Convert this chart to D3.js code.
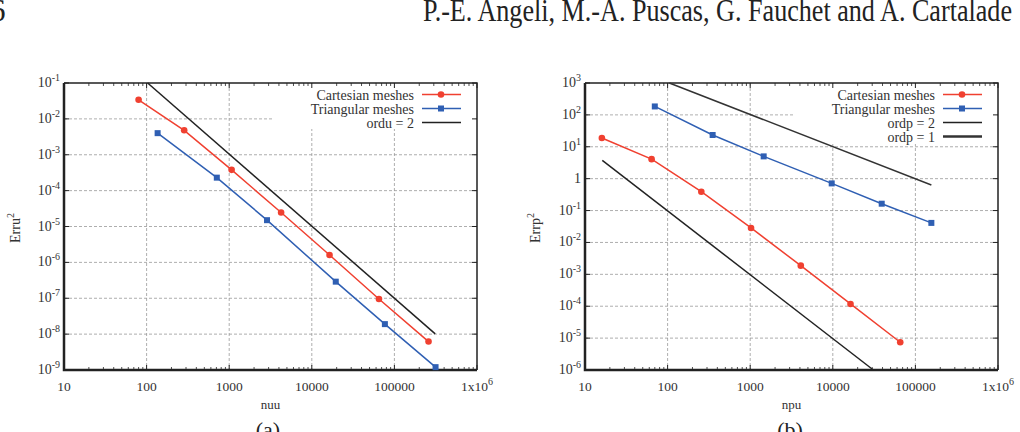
<!DOCTYPE html>
<html>
<head>
<meta charset="utf-8">
<script src="https://cdn.jsdelivr.net/npm/d3@7"></script>
<style>
  body { margin: 0; background: #fff; }
  svg { display: block; font-family: "Liberation Serif", "Times New Roman", serif; }
</style>
</head>
<body>
<svg id="chart" width="1020" height="432"></svg>
<script>
// panel (a): velocity error
var cartUx = [80, 285, 1070, 4250, 16400, 65000, 259000];
var cartUy = [3.4e-2, 4.8e-3, 3.8e-4, 2.45e-5, 1.6e-6, 9.5e-8, 6.2e-9];
var triUx = [136, 708, 2870, 19500, 76700, 315000];
var triUy = [4.0e-3, 2.3e-4, 1.5e-5, 2.9e-7, 1.9e-8, 1.2e-9];
var orduX = [103, 312000];
var orduY = [1e-1, 1.02e-8];

// panel (b): pressure error
var cartPx = [16, 64, 256, 1024, 4096, 16384, 65536];
var cartPy = [18.9, 4.1, 0.39, 0.0285, 1.87e-3, 1.18e-4, 7.4e-6];
var triPx = [70, 351, 1456, 9700, 39100, 156000];
var triPy = [184, 23.4, 5.0, 0.71, 0.164, 0.041];
var ordp2X = [16.2, 31000];
var ordp2Y = [3.75, 1e-6];
var ordp1X = [105, 156000];
var ordp1Y = [1000, 0.635];

var xTicks = [10, 100, 1000, 10000, 100000, 1e6];
var yTicksU = [-9, -8, -7, -6, -5, -4, -3, -2, -1];
var yTicksP = [-6, -5, -4, -3, -2, -1, 0, 1, 2, 3];

var RED = "#f04030", BLUE = "#2f5fb3", BLACK = "#222";

var svg = d3.select("#chart");
var zip = (xs, ys) => xs.map((x, i) => ({x: x, y: ys[i]}));

// running header, cut at the top like the scanned page
svg.append("text")
  .attr("x", 423).attr("y", 21)
  .attr("textLength", 589).attr("lengthAdjust", "spacingAndGlyphs")
  .style("font-size", "31px").attr("fill", "#222")
  .text("P.-E. Angeli, M.-A. Puscas, G. Fauchet and A. Cartalade");
svg.append("text").attr("x", -10).attr("y", 21)
  .style("font-size", "31px").attr("fill", "#222").text("6");

function supLabel(sel, base, exp, sz) {
  sel.text(null);
  sel.append("tspan").text(base);
  if (exp !== null) {
    sel.append("tspan").attr("dy", -6).style("font-size", (sz || 10) + "px").text(exp);
  }
}

function drawPanel(cfg) {
  var g = svg.append("g");
  var x = d3.scaleLog().domain([10, 1e6]).range([cfg.x0, cfg.x1]);
  var y = d3.scaleLog().domain(cfg.ydom).range([370, 83]);
  var top = 83, bot = 370;

  // grid
  xTicks.slice(1, -1).forEach(t => {
    g.append("line").attr("x1", x(t)).attr("x2", x(t)).attr("y1", top).attr("y2", bot)
      .attr("stroke", "#999").attr("stroke-width", 0.8).attr("stroke-dasharray", "3,2");
  });
  cfg.yt.slice(1, -1).forEach(e => {
    var yy = y(Math.pow(10, e));
    g.append("line").attr("x1", cfg.x0).attr("x2", cfg.x1).attr("y1", yy).attr("y2", yy)
      .attr("stroke", "#999").attr("stroke-width", 0.8).attr("stroke-dasharray", "3,2");
  });

  // legend background hides grid
  g.append("rect").attr("x", cfg.legBox[0]).attr("y", top + 1)
    .attr("width", cfg.x1 - cfg.legBox[0] - 1).attr("height", cfg.legBox[1] - top)
    .attr("fill", "#fff");

  // ticks
  var minor = [];
  d3.range(1, 6).forEach(d => d3.range(2, 10).forEach(k => minor.push(k * Math.pow(10, d))));
  minor.forEach(t => {
    [[bot, -3], [top, 3]].forEach(p => {
      g.append("line").attr("x1", x(t)).attr("x2", x(t)).attr("y1", p[0]).attr("y2", p[0] + p[1])
        .attr("stroke", BLACK).attr("stroke-width", 0.8);
    });
  });
  xTicks.forEach(t => {
    [[bot, -5], [top, 5]].forEach(p => {
      g.append("line").attr("x1", x(t)).attr("x2", x(t)).attr("y1", p[0]).attr("y2", p[0] + p[1])
        .attr("stroke", BLACK).attr("stroke-width", 1);
    });
  });
  cfg.yt.forEach(e => {
    var yy = y(Math.pow(10, e));
    [[cfg.x0, 5], [cfg.x1, -5]].forEach(p => {
      g.append("line").attr("x1", p[0]).attr("x2", p[0] + p[1]).attr("y1", yy).attr("y2", yy)
        .attr("stroke", BLACK).attr("stroke-width", 1);
    });
  });

  // border
  g.append("path")
    .attr("d", `M${cfg.x0},${top}H${cfg.x1}V${bot}`)
    .attr("fill", "none").attr("stroke", BLACK).attr("stroke-width", 1.5);
  g.append("path")
    .attr("d", `M${cfg.x0},${top}V${bot}H${cfg.x1}`)
    .attr("fill", "none").attr("stroke", BLACK).attr("stroke-width", 2.5);

  // tick labels
  xTicks.forEach(t => {
    var lab = g.append("text").attr("x", x(t)).attr("y", 391)
      .attr("text-anchor", "middle").style("font-size", "13.5px").attr("fill", "#333");
    if (t === 1e6) supLabel(lab, "1x10", "6");
    else lab.text(t);
  });
  cfg.yt.forEach(e => {
    var lab = g.append("text").attr("x", cfg.x0 - 4).attr("y", y(Math.pow(10, e)) + 4)
      .attr("text-anchor", "end").style("font-size", "14px").attr("fill", "#333");
    if (e === 0) lab.text("1");
    else supLabel(lab, "10", String(e));
  });

  // axis titles
  g.append("text").attr("x", (cfg.x0 + cfg.x1) / 2).attr("y", 409)
    .attr("text-anchor", "middle").style("font-size", "13px").attr("fill", "#333")
    .text(cfg.xlab);
  var yl = g.append("text")
    .attr("transform", `translate(${cfg.ylabX},228) rotate(-90)`)
    .attr("text-anchor", "middle").style("font-size", "14px").attr("fill", "#333");
  supLabel(yl, cfg.ylab, "2", 10);
  g.append("text").attr("x", cfg.capX).attr("y", 437)
    .attr("text-anchor", "middle").style("font-size", "22px").attr("fill", "#222")
    .text(cfg.cap);

  // series
  var line = d3.line().x(d => x(d.x)).y(d => y(d.y));
  cfg.series.forEach(s => {
    g.append("path").datum(zip(s.xs, s.ys)).attr("d", line)
      .attr("fill", "none").attr("stroke", s.color).attr("stroke-width", s.width || 1.5);
    if (s.marker === "circle") {
      g.selectAll(null).data(zip(s.xs, s.ys)).join("circle")
        .attr("cx", d => x(d.x)).attr("cy", d => y(d.y)).attr("r", 3.3).attr("fill", s.color);
    } else if (s.marker === "square") {
      g.selectAll(null).data(zip(s.xs, s.ys)).join("rect")
        .attr("x", d => x(d.x) - 3).attr("y", d => y(d.y) - 3)
        .attr("width", 6).attr("height", 6).attr("fill", s.color);
    }
  });

  // legend
  cfg.series.forEach((s, i) => {
    var yy = 94.5 + i * 14;
    g.append("text").attr("x", cfg.legX).attr("y", yy + 5)
      .attr("text-anchor", "end").style("font-size", "14px").attr("fill", "#333").text(s.name);
    g.append("line").attr("x1", cfg.legX + 8).attr("x2", cfg.legX + 47).attr("y1", yy).attr("y2", yy)
      .attr("stroke", s.color).attr("stroke-width", s.legWidth || s.width || 1.5);
    var mx = cfg.legX + 27;
    if (s.marker === "circle") {
      g.append("circle").attr("cx", mx).attr("cy", yy).attr("r", 3.3).attr("fill", s.color);
    } else if (s.marker === "square") {
      g.append("rect").attr("x", mx - 3).attr("y", yy - 3).attr("width", 6).attr("height", 6).attr("fill", s.color);
    }
  });
}

drawPanel({
  x0: 64, x1: 477, ydom: [1e-9, 1e-1], yt: yTicksU,
  xlab: "nuu", ylab: "Erru", ylabX: 20, cap: "(a)", capX: 268,
  legBox: [273, 128], legX: 414,
  series: [
    {name: "Cartesian meshes", xs: cartUx, ys: cartUy, color: RED, marker: "circle"},
    {name: "Triangular meshes", xs: triUx, ys: triUy, color: BLUE, marker: "square"},
    {name: "ordu = 2", xs: orduX, ys: orduY, color: BLACK, marker: null}
  ]
});

drawPanel({
  x0: 585, x1: 998, ydom: [1e-6, 1e3], yt: yTicksP,
  xlab: "npu", ylab: "Errp", ylabX: 540, cap: "(b)", capX: 790,
  legBox: [795, 143], legX: 935,
  series: [
    {name: "Cartesian meshes", xs: cartPx, ys: cartPy, color: RED, marker: "circle"},
    {name: "Triangular meshes", xs: triPx, ys: triPy, color: BLUE, marker: "square"},
    {name: "ordp = 2", xs: ordp2X, ys: ordp2Y, color: BLACK, marker: null},
    {name: "ordp = 1", xs: ordp1X, ys: ordp1Y, color: "#333", marker: null, width: 1.5, legWidth: 2.5}
  ]
});
</script>
</body>
</html>
